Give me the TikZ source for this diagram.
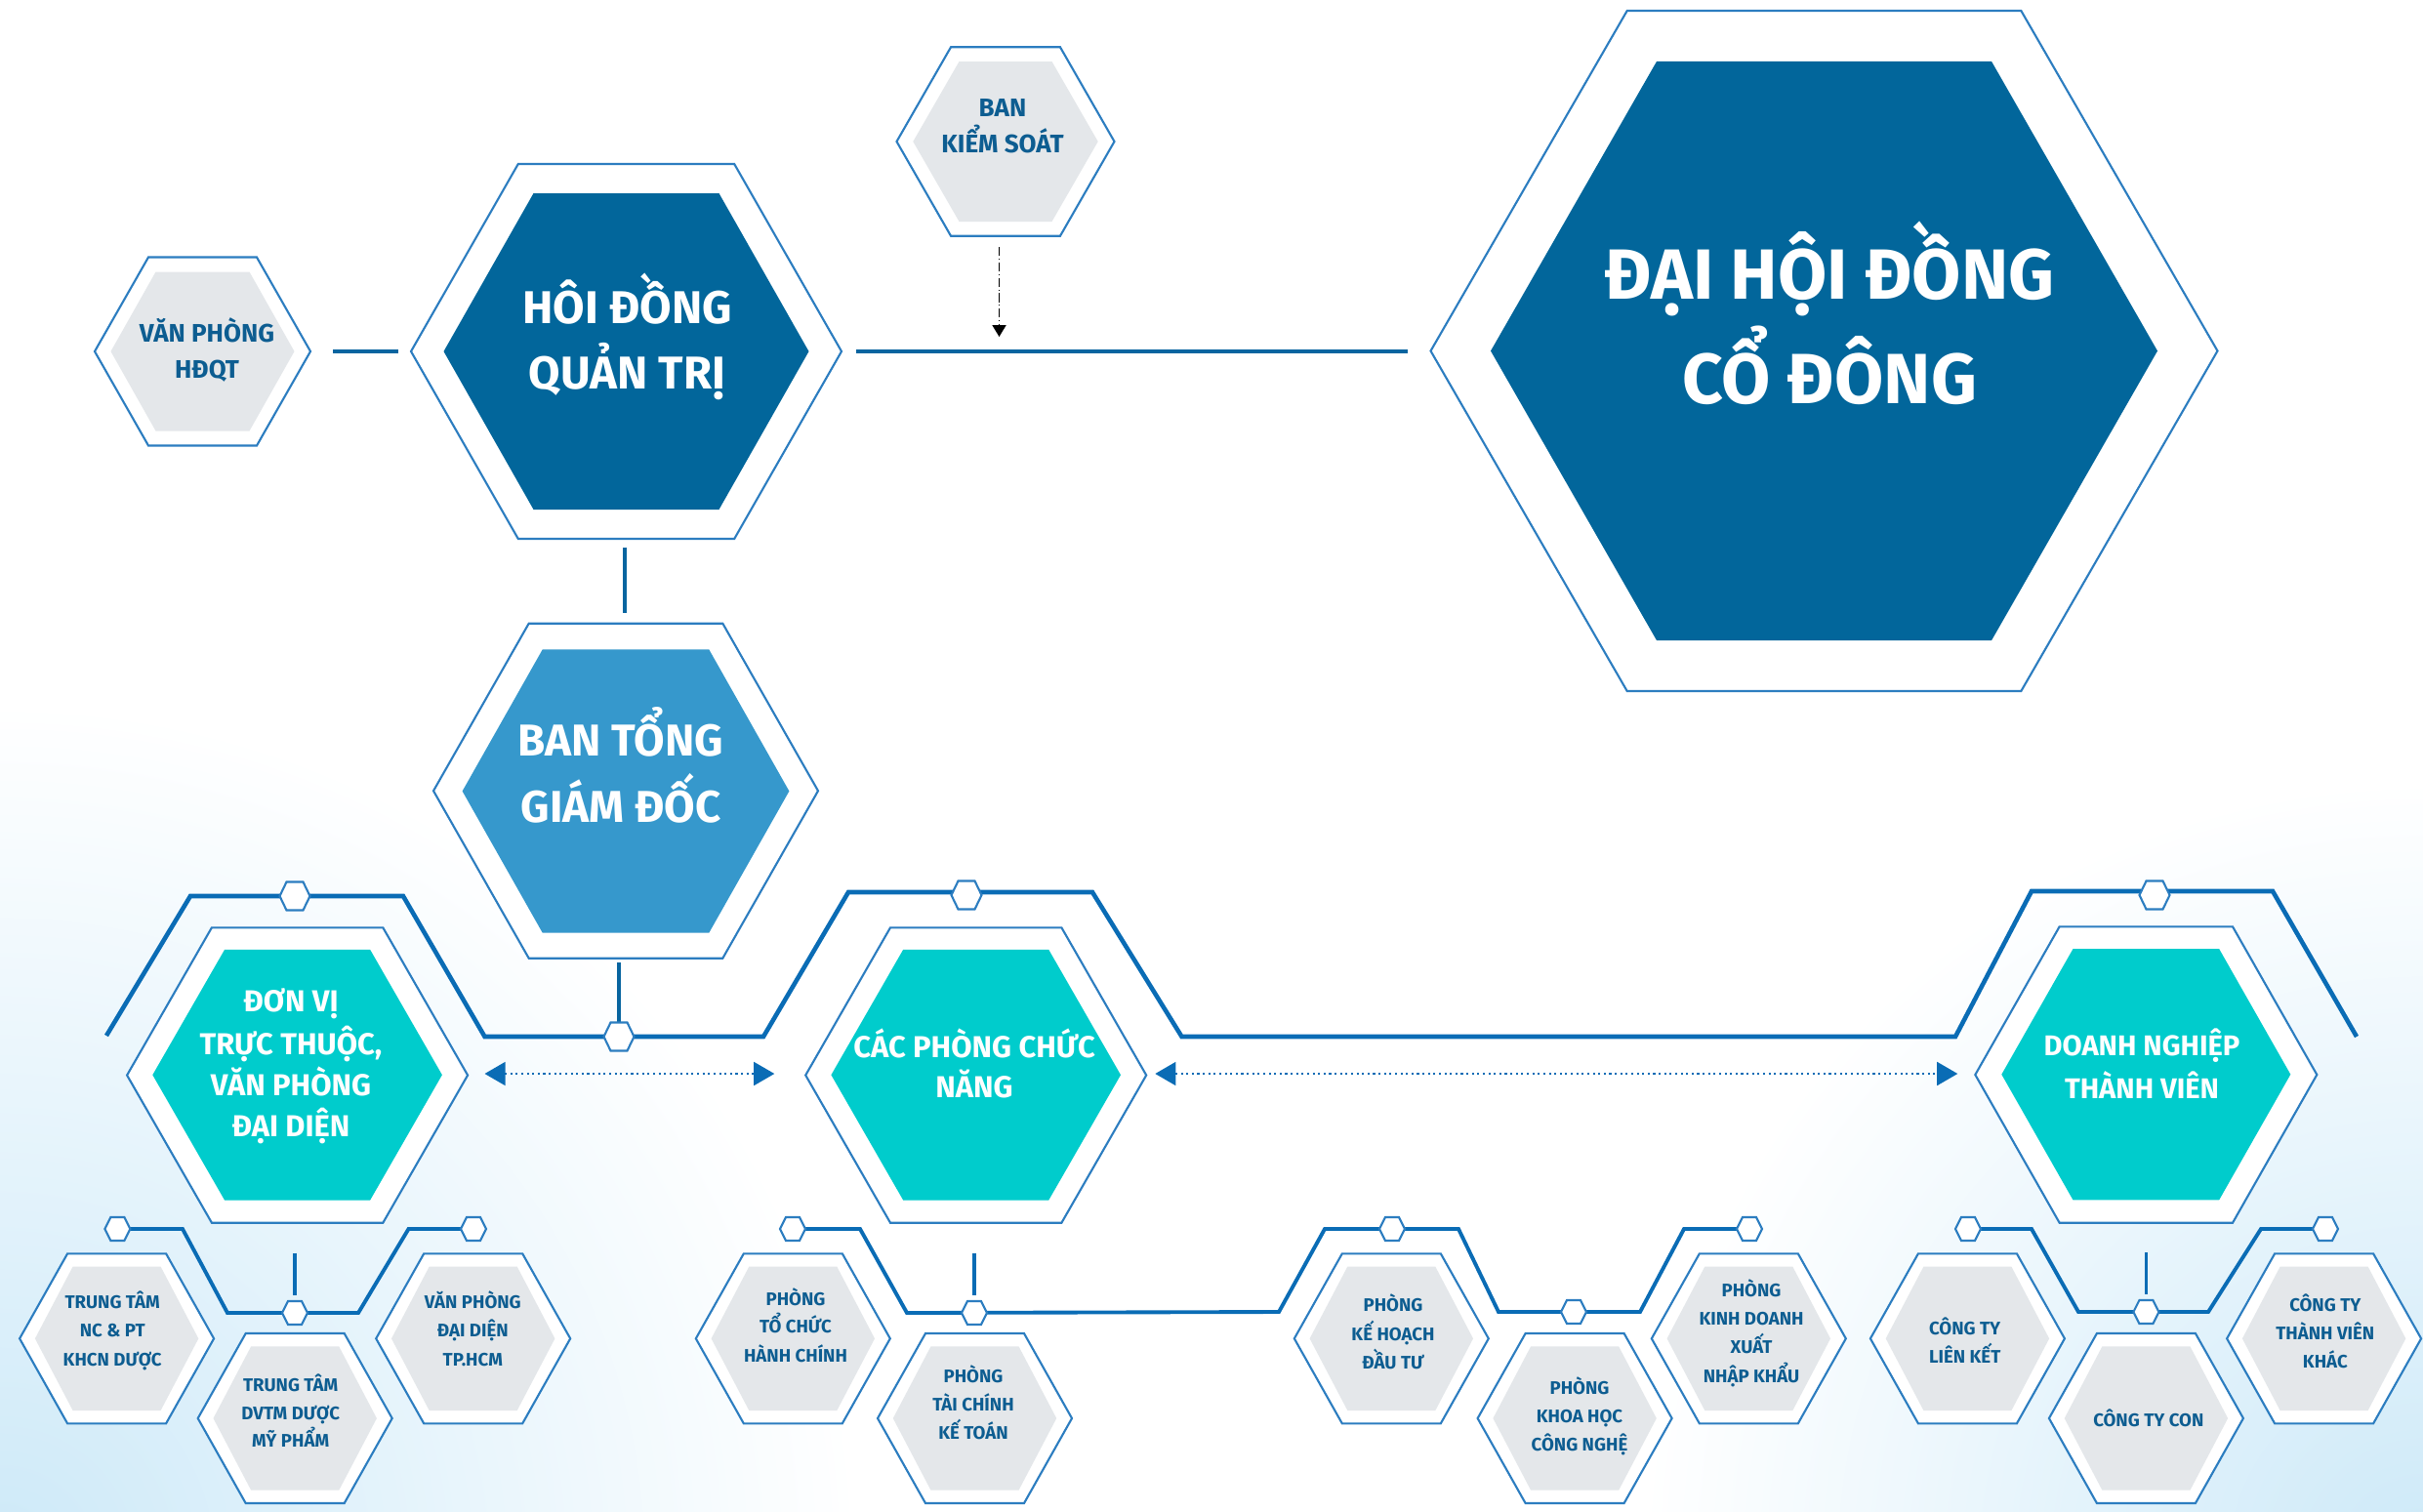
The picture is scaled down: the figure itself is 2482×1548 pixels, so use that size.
\documentclass[tikz,border=0pt]{standalone}
\usepackage{fontspec}
\setmainfont{Fira Sans}
\usetikzlibrary{arrows.meta,calc}
\definecolor{cnavy}{HTML}{02669B}
\definecolor{cmid}{HTML}{3698CC}
\definecolor{cteal}{HTML}{00CCCC}
\definecolor{cgray}{HTML}{E4E7EA}
\definecolor{cline}{HTML}{2C7DC0}
\definecolor{ctrack}{HTML}{0A6CB5}
\definecolor{cconn}{HTML}{0865A0}
\definecolor{ctext}{HTML}{0D5D91}
\definecolor{cbg}{HTML}{CDE9F8}
\tikzset{
  outerhex/.style={draw=cline, line width=0.6pt, fill=white},
  navyfill/.style={fill=cnavy},
  midfill/.style={fill=cmid},
  tealfill/.style={fill=cteal},
  grayfill/.style={fill=cgray},
  smallhex/.style={draw=cline, line width=0.6pt, fill=white},
  conn/.style={draw=cconn, line width=1.4pt},
  vconn/.style={draw=cconn, line width=1.1pt},
  track/.style={draw=ctrack, line width=1.3pt, line join=miter},
  subtrack/.style={draw=ctrack, line width=1.1pt, line join=miter},
  subconn/.style={draw=ctrack, line width=1.0pt},
  ctrlarrow/.style={draw=black, line width=0.45pt, dash pattern=on 2.6pt off 0.8pt on 0.3pt off 0.8pt, -{Triangle[length=3.4pt,width=4pt]}},
  darrow/.style={draw=ctrack, line width=0.6pt, densely dotted, <->, >={Triangle[length=6pt,width=6.8pt]}},
  txtA/.style={text=white, font=\bfseries\fontsize{20.7}{25}\selectfont, anchor=base, inner sep=0pt},
  txtB/.style={text=white, font=\bfseries\fontsize{13.4}{16}\selectfont, anchor=base, inner sep=0pt},
  txtC/.style={text=white, font=\bfseries\fontsize{13}{16}\selectfont, anchor=base, inner sep=0pt},
  txtD/.style={text=white, font=\bfseries\fontsize{8.8}{11}\selectfont, anchor=base, inner sep=0pt},
  txtE/.style={text=white, font=\bfseries\fontsize{8.3}{10}\selectfont, anchor=base, inner sep=0pt},
  txtF/.style={text=ctext, font=\bfseries\fontsize{7.4}{9}\selectfont, anchor=base, inner sep=0pt},
  txtG/.style={text=ctext, font=\bfseries\fontsize{5.3}{6}\selectfont, anchor=base, inner sep=0pt},
}
\newcommand\hexa[6]{\path[#6] ({#1-#3},{#2}) -- ({#1-#4},{#2-#5}) -- ({#1+#4},{#2-#5}) -- ({#1+#3},{#2}) -- ({#1+#4},{#2+#5}) -- ({#1-#4},{#2+#5}) -- cycle;}
\newcommand\bhex[2]{\hexa{#1}{#2}{99.5}{50.5}{87}{outerhex}\hexa{#1}{#2}{83.7}{45}{73.7}{grayfill}}
\newcommand\shexA[2]{\hexa{#1}{#2}{15.5}{8.5}{14.5}{smallhex}}
\newcommand\shexB[2]{\hexa{#1}{#2}{13}{7}{12}{smallhex}}
\begin{document}
\begin{tikzpicture}[x=0.01cm,y=-0.01cm]
\useasboundingbox (0,0) rectangle (2482,1548);
\begin{scope}
\clip (0,0) rectangle (2482,1548);
\shade[inner color=cbg, outer color=white] (0,1600) circle [radius=880];
\shade[inner color=cbg, outer color=white] (2482,1600) circle [radius=800];
\end{scope}

% centres
\coordinate (dhdcd) at (1868.5,359.5);
\coordinate (hdqt) at (641.5,360);
\coordinate (bks) at (1030,145);
\coordinate (vphdqt) at (207.5,360);
\coordinate (btgd) at (641,810.2);
\coordinate (dv) at (304.6,1101.5);
\coordinate (cpcn) at (999.7,1101.5);
\coordinate (dntv) at (2198.3,1101);

% connectors top
\draw[conn] ($(vphdqt)+(133.5,0)$) -- ($(hdqt)+(-233.5,0)$);
\draw[conn] ($(hdqt)+(235.5,0)$) -- ($(dhdcd)+(-426.5,0.5)$);
\draw[vconn] ($(hdqt)+(-1.5,200.7)$) -- ($(btgd)+(-1,-182.5)$);
\draw[ctrlarrow] ($(bks)+(-6.5,108)$) -- ($(bks)+(-6.5,200)$);
\draw[vconn] ($(btgd)+(-7,176)$) -- (634,1047);

% main track
\draw[track] (109,1061) -- (195,918) -- (413,918) -- (496.5,1062) -- (782,1062) -- (869,914) -- (1119,914) -- (1210.5,1062) -- (2003,1062) -- (2081,913) -- (2328,913) -- (2414,1062);

% sub tracks
\draw[subtrack] (120.4,1259) -- (187,1259) -- (233,1345) -- (367,1345) -- (418.5,1259) -- (485,1259);
\draw[subtrack] (812,1259) -- (881,1259) -- (929,1345) -- (1310,1344) -- (1357,1259) -- (1494,1259) -- (1535,1344) -- (1680,1344) -- (1725,1259) -- (1792,1259);
\draw[subtrack] (2016,1259) -- (2081,1259) -- (2129,1344) -- (2262,1344) -- (2316,1259) -- (2382,1259);
\draw[subconn] ($(dv)+(-2.6,182)$) -- ($(dv)+(-2.6,225)$);
\draw[subconn] ($(cpcn)+(-1.7,182)$) -- ($(cpcn)+(-1.7,225)$);
\draw[subconn] ($(dntv)+(0,182)$) -- ($(dntv)+(0,225)$);

% double arrows
\draw[darrow] (496.5,1100) -- (793.3,1100);
\draw[darrow] (1183.3,1100) -- (2005.3,1100);

% hexagons
\hexa{1868.5}{359.5}{403}{201.8}{348.5}{outerhex}
\hexa{1868.5}{359.5}{341.5}{171.5}{296.6}{navyfill}
\hexa{641.5}{360}{220.5}{110.7}{192}{outerhex}
\hexa{641.5}{360}{187}{95}{162}{navyfill}
\hexa{1030}{145}{111.5}{56}{96.7}{outerhex}
\hexa{1030}{145}{94.7}{47.5}{82}{grayfill}
\hexa{207.5}{360}{110.5}{55.5}{96.5}{outerhex}
\hexa{207.5}{360}{94}{48}{81.5}{grayfill}
\hexa{641}{810.2}{197}{99.3}{171.5}{outerhex}
\hexa{641}{810.5}{167.4}{85.3}{145.1}{midfill}
\hexa{304.6}{1101.5}{174.5}{87.7}{151.2}{outerhex}
\hexa{304.6}{1101.2}{148.3}{74.5}{128.4}{tealfill}
\hexa{999.7}{1101.5}{174.5}{87.7}{151.2}{outerhex}
\hexa{999.7}{1101.2}{148.3}{74.5}{128.4}{tealfill}
\hexa{2198.3}{1101}{175}{88.7}{151.7}{outerhex}
\hexa{2198.3}{1100.7}{148}{74.8}{128.7}{tealfill}

% bottom hexagons
\bhex{119.6}{1371.3}
\bhex{484.7}{1371.3}
\bhex{302.2}{1453}
\bhex{812.3}{1371.3}
\bhex{1425.3}{1371.3}
\bhex{1791.3}{1371.3}
\bhex{998.5}{1453}
\bhex{1613.1}{1453}
\bhex{2015.4}{1371.3}
\bhex{2380.6}{1371.3}
\bhex{2198.4}{1453}

% small hexagons
\shexA{302}{918}
\shexA{634}{1062}
\shexA{990}{917}
\shexA{2207}{917}
\shexB{120.4}{1259}
\shexB{302}{1345}
\shexB{485}{1259}
\shexB{812}{1259}
\shexB{998}{1345}
\shexB{1426}{1259}
\shexB{1612}{1344}
\shexB{1792}{1259}
\shexB{2016}{1259}
\shexB{2198.4}{1344}
\shexB{2382}{1259}

% texts
\node[txtA] (a1) at (1874,306.7) {ĐẠI HỘI ĐỒNG};
\node[txtA] (a2) at (1874,413) {CỔ ĐÔNG};
\node[txtB] (b1) at (642.5,331) {HÔI ĐỒNG};
\node[txtB] (b2) at (642.5,398) {QUẢN TRỊ};
\node[txtC] (c1) at (636,774.1) {BAN TỔNG};
\node[txtC] (c2) at (636,842.4) {GIÁM ĐỐC};
\node[txtF] (f1) at (1027,119.3) {BAN};
\node[txtF] (f2) at (1027,156.7) {KIỂM SOÁT};
\node[txtF] (f3) at (212,350) {VĂN PHÒNG};
\node[txtF] (f4) at (212,387.3) {HĐQT};
\node[txtD] (d1) at (298,1036.6) {ĐƠN VỊ};
\node[txtD] (d2) at (298,1080) {TRỰC THUỘC,};
\node[txtD] (d3) at (298,1122.3) {VĂN PHÒNG};
\node[txtD] (d4) at (298,1164.7) {ĐẠI DIỆN};
\node[txtD] (d5) at (998,1083) {CÁC PHÒNG CHỨC};
\node[txtD] (d6) at (998,1124.5) {NĂNG};
\node[txtE] (e1) at (2194,1081.7) {DOANH NGHIỆP};
\node[txtE] (e2) at (2194,1125) {THÀNH VIÊN};

\node[txtG] (g01) at (115.2,1340) {TRUNG TÂM};
\node[txtG] (g02) at (115.2,1369) {NC \& PT};
\node[txtG] (g03) at (115.2,1399) {KHCN DƯỢC};
\node[txtG] (g04) at (297.7,1425) {TRUNG TÂM};
\node[txtG] (g05) at (297.7,1454) {DVTM DƯỢC};
\node[txtG] (g06) at (297.7,1482.7) {MỸ PHẨM};
\node[txtG] (g07) at (484.3,1340) {VĂN PHÒNG};
\node[txtG] (g08) at (484.3,1369) {ĐẠI DIỆN};
\node[txtG] (g09) at (484.3,1399) {TP.HCM};
\node[txtG] (g10) at (815,1337.3) {PHÒNG};
\node[txtG] (g11) at (815,1365.7) {TỔ CHỨC};
\node[txtG] (g12) at (815,1395.7) {HÀNH CHÍNH};
\node[txtG] (g13) at (997,1416) {PHÒNG};
\node[txtG] (g14) at (997,1445.7) {TÀI CHÍNH};
\node[txtG] (g15) at (997,1474.3) {KẾ TOÁN};
\node[txtG] (g16) at (1427,1343.3) {PHÒNG};
\node[txtG] (g17) at (1427,1373.3) {KẾ HOẠCH};
\node[txtG] (g18) at (1427,1402.3) {ĐẦU TƯ};
\node[txtG] (g19) at (1618,1428.3) {PHÒNG};
\node[txtG] (g20) at (1618,1457.3) {KHOA HỌC};
\node[txtG] (g21) at (1618,1486.7) {CÔNG NGHỆ};
\node[txtG] (g22) at (1794,1328.3) {PHÒNG};
\node[txtG] (g23) at (1794,1357.3) {KINH DOANH};
\node[txtG] (g24) at (1794,1386.7) {XUẤT};
\node[txtG] (g25) at (1794,1416) {NHẬP KHẨU};
\node[txtG] (g26) at (2012.7,1367.3) {CÔNG TY};
\node[txtG] (g27) at (2012.7,1396) {LIÊN KẾT};
\node[txtG] (g28) at (2200.8,1461.7) {CÔNG TY CON};
\node[txtG] (g29) at (2381.8,1343.3) {CÔNG TY};
\node[txtG] (g30) at (2381.8,1372.7) {THÀNH VIÊN};
\node[txtG] (g31) at (2381.8,1401.7) {KHÁC};
\end{tikzpicture}
\end{document}
